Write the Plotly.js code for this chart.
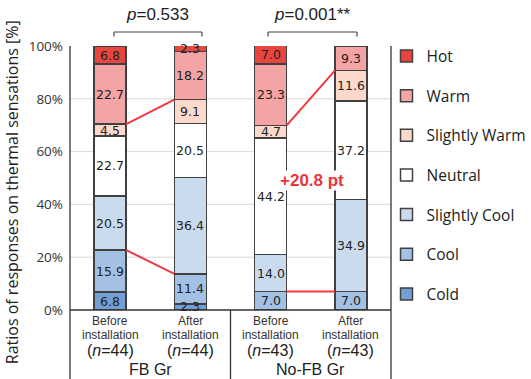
<!DOCTYPE html>
<html>
<head>
<meta charset="utf-8">
<script src="https://cdn.plot.ly/plotly-3.0.1.min.js"></script>
<style>html,body{margin:0;padding:0;background:#fff;}#chart{width:531px;height:379px;}</style>
</head>
<body>
<div id="chart"></div>
<script>
// ---- data ----
const bars = ["FB_before", "FB_after", "NoFB_before", "NoFB_after"];
const phaseLabels = ["Before", "After", "Before", "After"];
const subLabels = ["installation", "installation", "installation", "installation"];
const nLabels = ["(<i>n</i>=44)", "(<i>n</i>=44)", "(<i>n</i>=43)", "(<i>n</i>=43)"];
const groups = ["FB Gr", "No-FB Gr"];
const pValues = ["<i>p</i>=0.533", "<i>p</i>=0.001**"];
const categories = ["Cold", "Cool", "Slightly Cool", "Neutral", "Slightly Warm", "Warm", "Hot"];
const cold = [6.8, 2.3, 0, 0];
const cool = [15.9, 11.4, 7.0, 7.0];
const slightlyCool = [20.5, 36.4, 14.0, 34.9];
const neutral = [22.7, 20.5, 44.2, 37.2];
const slightlyWarm = [4.5, 9.1, 4.7, 11.6];
const warm = [22.7, 18.2, 23.3, 9.3];
const hot = [6.8, 2.3, 7.0, 0];
const series = [cold, cool, slightlyCool, neutral, slightlyWarm, warm, hot];
const colors = ["#729fd6", "#a2c1e4", "#cbdbee", "#ffffff", "#fcd9cb", "#f4a4a4", "#e8453f"];

const traces = series.map((vals, i) => ({
  type: "bar",
  name: categories[i],
  x: bars,
  y: vals,
  width: 0.4,
  legendgroup: categories[i],
  legendrank: 100 - i * 10,
  marker: {color: colors[i], line: {color: "#404040", width: 1.5}},
  hoverinfo: "skip"
}));

// cumulative sums
const cum = bars.map((b, j) => {
  let s = 0; const arr = [0];
  series.forEach(v => { s += v[j]; arr.push(s); });
  return arr;
});

const annotations = [];
series.forEach((vals, i) => {
  vals.forEach((v, j) => {
    if (v <= 0) return;
    annotations.push({
      x: bars[j], y: (cum[j][i] + cum[j][i + 1]) / 2, xref: "x", yref: "y",
      text: v.toFixed(1), showarrow: false,
      font: {family: "DejaVu Sans", size: 12.5, color: "#222"}
    });
  });
});

// x labels
const lblFont = "Liberation Sans";
bars.forEach((b, j) => {
  annotations.push({x: b, y: -0.042, xref: "x", yref: "paper", xanchor: "center", yanchor: "middle", text: phaseLabels[j],
    showarrow: false, font: {family: lblFont, size: 12, color: "#333"}});
  annotations.push({x: b, y: -0.093, xref: "x", yref: "paper", xanchor: "center", yanchor: "middle", text: subLabels[j],
    showarrow: false, font: {family: lblFont, size: 12, color: "#333"}});
  annotations.push({x: b, y: -0.155, xref: "x", yref: "paper", xanchor: "center", yanchor: "middle", text: nLabels[j],
    showarrow: false, font: {family: lblFont, size: 16, color: "#222"}});
});
groups.forEach((g, k) => {
  annotations.push({x: 0.25 + 0.5 * k, y: -0.225, xref: "paper", yref: "paper", xanchor: "center", yanchor: "middle", text: g,
    showarrow: false, font: {family: lblFont, size: 16, color: "#222"}});
});
// p-values
const pX = [0.274, 0.756];
pValues.forEach((p, k) => {
  annotations.push({x: pX[k], y: 1.118, xref: "paper", yref: "paper", xanchor: "center", yanchor: "middle", text: p,
    showarrow: false, font: {family: "Liberation Sans", size: 17, color: "#222"}});
});
// y-axis title
annotations.push({x: -0.18, y: 0.447, xref: "paper", yref: "paper", xanchor: "center", yanchor: "middle",
  textangle: -90, text: "Ratios of responses on thermal sensations [%]", showarrow: false,
  font: {family: "Open Sans", size: 16, color: "#222"}});

// connecting lines: Cold+Cool top (index 2) and Slightly Warm top (index 5)
const shapes = [];
[[0, 1], [2, 3]].forEach(([a, b]) => {
  [2, 5].forEach(level => {
    shapes.push({type: "line", xref: "x", yref: "y", x0: a + 0.2, x1: b - 0.2,
      y0: cum[a][level], y1: cum[b][level], line: {color: "#f0393f", width: 2}});
  });
});
const diff = cum[3][5] - cum[2][5];
annotations.push({x: 2.52, y: 49, xref: "x", yref: "y", text: "<b>+" + diff.toFixed(1) + " pt</b>",
  showarrow: false, bgcolor: "#ffffff", borderpad: 0,
  font: {family: "Liberation Sans Narrow, Liberation Sans", size: 17, color: "#e8363c"}});

// grid lines
[20, 40, 60, 80].forEach(g => shapes.push({type: "line", xref: "paper", yref: "y", x0: 0, x1: 1, y0: g, y1: g,
  line: {color: "#d9d9d9", width: 1}, layer: "below"}));
// frame and table lines
const frameC = "#333";
[0, 0.5, 1].forEach(xp => shapes.push({type: "line", xref: "paper", yref: "paper", x0: xp, x1: xp,
  y0: xp === 0.5 ? 0 : 1, y1: -0.3, line: {color: frameC, width: 1.3}}));
shapes.push({type: "line", xref: "paper", yref: "paper", x0: 0, x1: 1, y0: 0, y1: 0, line: {color: frameC, width: 1.6}});
// brackets
[[0.137, 0.411], [0.617, 0.894]].forEach(([a, b]) => {
  const ln = {color: "#444", width: 1.2};
  shapes.push({type: "line", xref: "paper", yref: "paper", x0: a, x1: b, y0: 1.053, y1: 1.053, line: ln});
  shapes.push({type: "line", xref: "paper", yref: "paper", x0: a, x1: a, y0: 1.036, y1: 1.053, line: ln});
  shapes.push({type: "line", xref: "paper", yref: "paper", x0: b, x1: b, y0: 1.036, y1: 1.053, line: ln});
});

const layout = {
  width: 531, height: 379,
  margin: {l: 70, r: 140, t: 46, b: 69, autoexpand: false},
  paper_bgcolor: "#ffffff", plot_bgcolor: "#ffffff",
  barmode: "stack",
  showlegend: true,
  legend: {x: 0.986, xanchor: "left", y: 1.025, yanchor: "top", traceorder: "grouped", maxheight: 1,
    bgcolor: "rgba(0,0,0,0)", tracegroupgap: 16.5,
    font: {family: "Open Sans", size: 15.5, color: "#222"}, itemwidth: 30},
  xaxis: {type: "category", range: [-0.5, 3.5], showticklabels: false, showgrid: false, zeroline: false,
    showline: false, ticks: ""},
  yaxis: {range: [0, 100], tickvals: [0, 20, 40, 60, 80, 100], ticktext: ["0%", "20%", "40%", "60%", "80%", "100%"],
    showgrid: false, zeroline: false, showline: false, ticks: "", ticklabelstandoff: 6,
    tickfont: {family: "Open Sans", size: 13.5, color: "#333"}},
  annotations: annotations,
  shapes: shapes
};

Plotly.newPlot("chart", traces, layout, {displayModeBar: false, staticPlot: true});
</script>
</body>
</html>
